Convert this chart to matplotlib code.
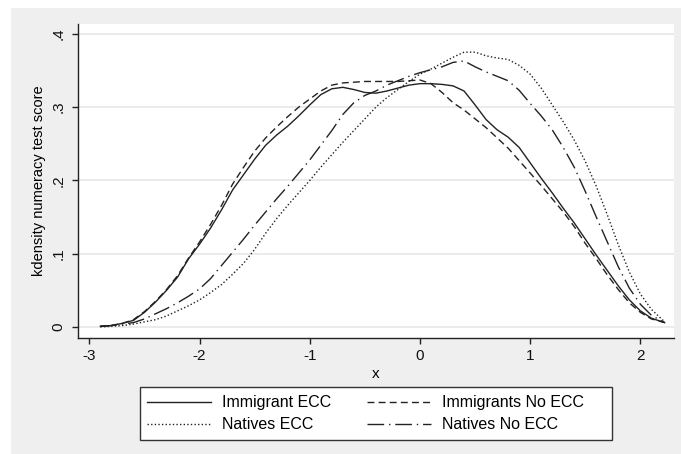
import matplotlib
matplotlib.use("Agg")
import matplotlib.pyplot as plt
from matplotlib.patches import Rectangle

plt.rcParams['font.family'] = ['Liberation Sans', 'DejaVu Sans']

x = [-2.9, -2.8, -2.7, -2.6, -2.5, -2.4, -2.3, -2.2, -2.1, -2.0,
     -1.9, -1.8, -1.7, -1.6, -1.5, -1.4, -1.3, -1.2, -1.1, -1.0,
     -0.9, -0.8, -0.7, -0.6, -0.5, -0.4, -0.3, -0.2, -0.1, 0.0,
     0.1, 0.2, 0.3, 0.4, 0.5, 0.6, 0.7, 0.8, 0.9, 1.0,
     1.1, 1.2, 1.3, 1.4, 1.5, 1.6, 1.7, 1.8, 1.9, 2.0,
     2.1, 2.22]

immigrant_ecc = [0.001, 0.002, 0.005, 0.009, 0.020, 0.034, 0.050, 0.068, 0.093, 0.113,
                 0.135, 0.160, 0.187, 0.208, 0.229, 0.248, 0.262, 0.274, 0.288, 0.303,
                 0.317, 0.325, 0.327, 0.324, 0.320, 0.319, 0.322, 0.326, 0.330, 0.332,
                 0.332, 0.331, 0.329, 0.322, 0.303, 0.283, 0.269, 0.259, 0.245, 0.224,
                 0.203, 0.183, 0.162, 0.142, 0.120, 0.098, 0.077, 0.056, 0.037, 0.022,
                 0.012, 0.006]

immigrants_no_ecc = [0.001, 0.002, 0.005, 0.010, 0.021, 0.035, 0.051, 0.070, 0.094, 0.116,
                     0.140, 0.166, 0.195, 0.218, 0.240, 0.258, 0.273, 0.287, 0.300, 0.311,
                     0.322, 0.330, 0.333, 0.334, 0.335, 0.335, 0.335, 0.335, 0.336, 0.337,
                     0.332, 0.320, 0.306, 0.296, 0.284, 0.272, 0.258, 0.244, 0.227, 0.210,
                     0.193, 0.175, 0.157, 0.137, 0.114, 0.093, 0.071, 0.051, 0.033, 0.020,
                     0.011, 0.006]

natives_ecc = [0.000, 0.001, 0.002, 0.004, 0.007, 0.010, 0.015, 0.022, 0.029, 0.037,
               0.047, 0.058, 0.072, 0.087, 0.106, 0.128, 0.148, 0.166, 0.183, 0.200,
               0.218, 0.235, 0.252, 0.268, 0.284, 0.300, 0.313, 0.324, 0.335, 0.345,
               0.352, 0.360, 0.368, 0.375, 0.375, 0.370, 0.367, 0.365, 0.357, 0.345,
               0.326, 0.303, 0.280, 0.255, 0.226, 0.192, 0.153, 0.112, 0.075, 0.045,
               0.024, 0.007]

natives_no_ecc = [0.001, 0.002, 0.004, 0.006, 0.011, 0.018, 0.025, 0.033, 0.042, 0.052,
                  0.066, 0.084, 0.102, 0.120, 0.139, 0.157, 0.175, 0.192, 0.210, 0.228,
                  0.248, 0.268, 0.290, 0.306, 0.316, 0.322, 0.330, 0.336, 0.342, 0.347,
                  0.351, 0.355, 0.361, 0.363, 0.355, 0.348, 0.342, 0.336, 0.323, 0.305,
                  0.288, 0.269, 0.245, 0.218, 0.185, 0.150, 0.116, 0.082, 0.053, 0.031,
                  0.016, 0.006]

labels = ["Immigrant ECC", "Immigrants No ECC", "Natives ECC", "Natives No ECC"]
xticks = [-3, -2, -1, 0, 1, 2]
yticks = [0, 0.1, 0.2, 0.3, 0.4]
yticklabels = ["0", ".1", ".2", ".3", ".4"]

W, H = 681, 454
fig = plt.figure(figsize=(W / 100, H / 100), dpi=100)
fig.patch.set_facecolor("white")
fig.patches.append(Rectangle((11 / W, 0), 1 - 11 / W, 1 - 8 / H,
                             transform=fig.transFigure, facecolor="#efefef",
                             edgecolor="none", zorder=-10))
# legend frame
fig.patches.append(Rectangle((140 / W, 1 - 440 / H), 472 / W, 53 / H,
                             transform=fig.transFigure, facecolor="white",
                             edgecolor="#333333", lw=1.0, zorder=-5))

ax = fig.add_axes([78 / W, 1 - 338 / H, (674 - 78) / W, (338 - 24) / H])
ax.set_facecolor("white")
ax.set_xlim(-3.103, 2.305)
ax.set_ylim(-0.015, 0.4134)

lc = "#222222"
lw = 1.0
ax.plot(x, immigrant_ecc, color=lc, lw=lw, ls="-", label=labels[0])
ax.plot(x, natives_ecc, color=lc, lw=lw, ls=(0, (1, 1.6)), label=labels[2])
ax.plot(x, immigrants_no_ecc, color=lc, lw=lw, ls=(0, (5, 3)), label=labels[1])
ax.plot(x, natives_no_ecc, color=lc, lw=lw, ls=(0, (12, 3.5, 1, 3.5)), label=labels[3])

ax.set_yticks(yticks)
ax.set_yticklabels(yticklabels, rotation=90, va="center")
ax.set_xticks(xticks)
ax.set_xticklabels([str(t) for t in xticks])
ax.grid(axis="y", color="#e8e8e8", lw=1.2)
ax.set_axisbelow(True)
for s in ["top", "right"]:
    ax.spines[s].set_visible(False)
for s in ["left", "bottom"]:
    ax.spines[s].set_color("#222222")
    ax.spines[s].set_linewidth(1.0)
ax.tick_params(axis="both", length=4, width=1.0, color="#222222", labelsize=11,
               labelcolor="#111111")
ax.tick_params(axis="x", pad=4)
ax.tick_params(axis="y", pad=5)

ax.set_xlabel("x", fontsize=11, labelpad=3)
ax.set_ylabel("kdensity numeracy test score", fontsize=10.5, labelpad=4)

handles, labs = ax.get_legend_handles_labels()
leg = fig.legend(handles, labs, ncol=2, loc="upper left",
                 bbox_to_anchor=(140 / W, 1 - 388 / H),
                 fontsize=11.5, frameon=False,
                 handlelength=4.0, handletextpad=0.7, columnspacing=2.2,
                 borderpad=0.45, labelspacing=0.45, borderaxespad=0)

fig.savefig("out.png", dpi=100, facecolor=fig.get_facecolor())
